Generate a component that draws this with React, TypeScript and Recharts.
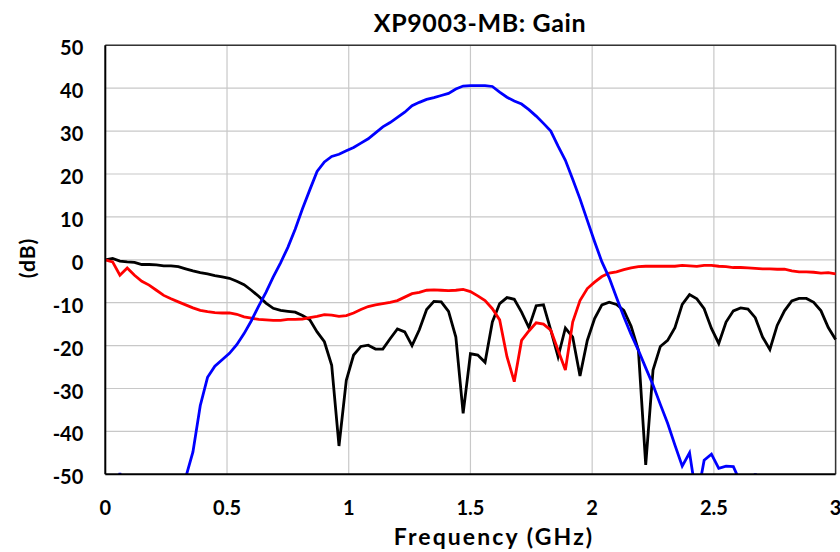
import React from 'react';
import { LineChart, Line, XAxis, YAxis, CartesianGrid, ReferenceLine } from 'recharts';

// Frequency sampling step (GHz) of the measurement, 101 points from 0 to 3 GHz
const FREQ_STEP = 0.03;

// Gain S21 (dB) - blue
const gainS21 = [
  -58, -56, -49.7, -57, -58, -60, -60, -59, -58, -57,
  -55, -50.8, -44.8, -34.0, -27.4, -24.8, -23.3, -21.8, -19.8, -17.2,
  -14.2, -10.8, -7.6, -4.0, -0.7, 2.9, 7.1, 11.9, 16.3, 20.6,
  22.8, 24.1, 24.6, 25.4, 26.2, 27.2, 28.2, 29.6, 31.0, 32.0,
  33.2, 34.4, 35.9, 36.7, 37.4, 37.8, 38.3, 38.8, 39.8, 40.5,
  40.6, 40.6, 40.6, 40.4, 39.1, 37.9, 37.0, 36.3, 35.0, 33.5,
  31.8, 30.0, 26.5, 23.2, 18.8, 14.2, 9.2, 4.2, -0.5, -4.2,
  -8.8, -13.3, -17.4, -21.1, -25.2, -29.2, -33.7, -38.1, -43.2, -48.1,
  -45.0, -56, -46.7, -45.3, -48.6, -48.1, -48.2, -52, -58, -49.8,
  -58, -60, -60, -61, -60, -59, -60, -61, -60, -60,
  -60,
];

// Input return (dB) - black
const returnBlack = [
  0.0, 0.3, -0.3, -0.5, -0.6, -1.1, -1.1, -1.2, -1.4, -1.4,
  -1.6, -2.1, -2.6, -3.0, -3.3, -3.7, -4.0, -4.3, -5.0, -5.8,
  -7.1, -8.5, -10.1, -11.3, -11.8, -12.0, -12.2, -13.0, -14.0, -16.8,
  -19.1, -24.6, -43.4, -28.1, -22.2, -20.2, -19.9, -20.8, -20.8, -18.4,
  -16.1, -16.8, -20.0, -16.3, -11.6, -9.7, -9.8, -12.0, -18.0, -35.8,
  -21.9, -22.2, -23.9, -14.5, -10.2, -8.8, -9.2, -12.2, -15.8, -10.7,
  -10.5, -16.4, -22.6, -15.9, -18.0, -27.1, -18.8, -13.7, -10.5, -9.9,
  -10.4, -11.8, -15.5, -21.1, -47.8, -25.7, -20.2, -18.8, -15.8, -10.4,
  -8.1, -9.1, -11.4, -16.0, -19.5, -14.5, -11.9, -11.2, -11.5, -13.5,
  -18.0, -20.9, -15.3, -11.9, -9.6, -9.0, -9.0, -9.9, -11.9, -15.8,
  -18.6,
];

// Output return (dB) - red
const returnRed = [
  0.0, -0.5, -3.6, -1.9, -3.6, -5.0, -5.9, -7.1, -8.3, -9.1,
  -9.8, -10.5, -11.2, -11.8, -12.1, -12.3, -12.4, -12.4, -12.7, -13.3,
  -13.6, -13.9, -14.0, -14.1, -14.1, -13.9, -13.9, -13.8, -13.5, -13.2,
  -12.8, -12.9, -13.2, -13.0, -12.4, -11.6, -10.9, -10.5, -10.2, -9.9,
  -9.5, -8.7, -7.9, -7.6, -7.1, -7.0, -7.1, -7.2, -7.1, -6.9,
  -7.4, -8.4, -9.5, -11.4, -14.0, -22.6, -28.4, -18.8, -16.6, -14.7,
  -15.0, -16.4, -21.1, -25.7, -14.5, -9.5, -6.7, -5.2, -3.9, -3.1,
  -2.8, -2.3, -1.9, -1.6, -1.5, -1.5, -1.5, -1.5, -1.5, -1.3,
  -1.4, -1.55, -1.3, -1.3, -1.5, -1.6, -1.8, -1.8, -1.9, -2.0,
  -2.1, -2.1, -2.2, -2.2, -2.6, -2.8, -2.8, -2.9, -3.1, -3.0,
  -3.3,
];

const xTicks = [0, 0.5, 1, 1.5, 2, 2.5, 3];
const xTickLabels = ['0', '0.5', '1', '1.5', '2', '2.5', '3'];
const yTicks = [-50, -40, -30, -20, -10, 0, 10, 20, 30, 40, 50];

const titleText = 'XP9003-MB: Gain';
const xLabelText = 'Frequency (GHz)';
const yLabelText = '(dB)';

const data = gainS21.map((g, i) => ({
  f: Math.round(i * FREQ_STEP * 1000) / 1000,
  gain: g,
  black: returnBlack[i],
  red: returnRed[i],
}));

const FONT = "Lato, 'Open Sans', sans-serif";
const W = 840;
const H = 552;

const YTick = (props: any) => {
  const { x, y, payload } = props;
  return (
    <text x={x} y={y + 10} textAnchor="end" fontFamily={FONT} fontWeight={700} fontSize={20} fill="#000">
      {payload.value}
    </text>
  );
};

const XTick = (props: any) => {
  const { x, y, payload } = props;
  const idx = xTicks.indexOf(payload.value);
  return (
    <text x={x} y={y} textAnchor="middle" fontFamily={FONT} fontWeight={700} fontSize={20} fill="#000">
      {idx >= 0 ? xTickLabels[idx] : payload.value}
    </text>
  );
};

export default function App() {
  return (
    <div
      style={{
        position: 'fixed',
        left: 0,
        top: 0,
        width: W,
        height: H,
        overflow: 'hidden',
        background: '#fff',
      }}
    >
      <LineChart
        width={W}
        height={H}
        data={data}
        margin={{ top: 45.3, right: 4.4, bottom: 37.7, left: 45.3 }}
      >
        <CartesianGrid stroke="#c8c8c8" strokeWidth={1.2} />
        <XAxis
          dataKey="f"
          type="number"
          domain={[0, 3]}
          ticks={xTicks}
          height={40}
          tickSize={0}
          tickMargin={40.7}
          tick={<XTick />}
          axisLine={{ stroke: '#000', strokeWidth: 2 }}
          tickLine={false}
          interval={0}
        />
        <YAxis
          type="number"
          domain={[-50, 50]}
          ticks={yTicks}
          width={60}
          allowDataOverflow
          tickSize={0}
          tickMargin={22}
          tick={<YTick />}
          axisLine={{ stroke: '#000', strokeWidth: 2 }}
          tickLine={false}
          interval={0}
        />
        <ReferenceLine y={50} stroke="#333" strokeWidth={1.5} />
        <ReferenceLine x={3} stroke="#333" strokeWidth={1.5} />
        <Line type="linear" dataKey="black" stroke="#000000" strokeWidth={2.8} dot={false} isAnimationActive={false} />
        <Line type="linear" dataKey="red" stroke="#ff0000" strokeWidth={2.8} dot={false} isAnimationActive={false} />
        <Line type="linear" dataKey="gain" stroke="#0000ff" strokeWidth={2.8} dot={false} isAnimationActive={false} />
      </LineChart>
      <svg
        width={W}
        height={H}
        style={{ position: 'absolute', left: 0, top: 0, pointerEvents: 'none' }}
      >
        <text x={480} y={31.7} textAnchor="middle" fontFamily={FONT} fontWeight={700} fontSize={25} letterSpacing={0.6} fill="#000">
          {titleText}
        </text>
        <text x={494} y={545} textAnchor="middle" fontFamily={FONT} fontWeight={700} fontSize={23} letterSpacing={2.1} fill="#000">
          {xLabelText}
        </text>
        <text
          x={0}
          y={0}
          transform="translate(26,258) rotate(-90)"
          textAnchor="middle"
          dominantBaseline="central"
          fontFamily={FONT}
          fontWeight={700}
          fontSize={21}
          letterSpacing={1}
          fill="#000"
        >
          {yLabelText}
        </text>
      </svg>
    </div>
  );
}
